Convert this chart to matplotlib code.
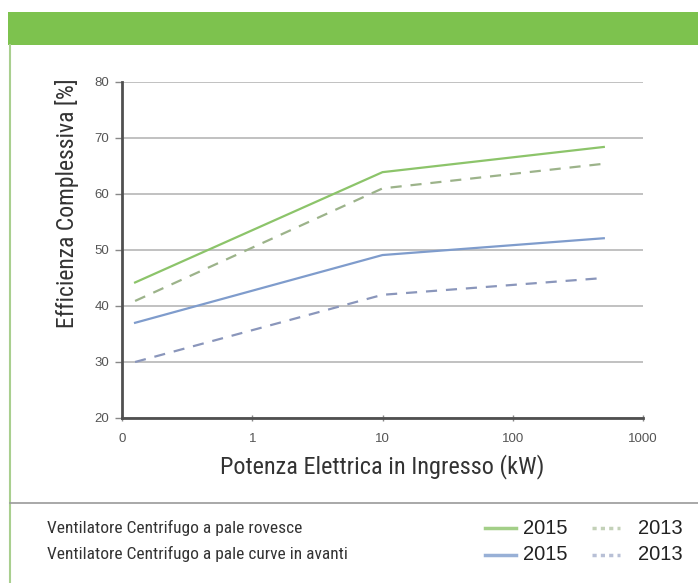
import numpy as np
import matplotlib.pyplot as plt
from matplotlib.lines import Line2D
from matplotlib.patches import Rectangle

# dati (potenza in kW, efficienza in %)
potenza = [0.126, 10, 500]
rov_2015 = [44.2, 63.9, 68.4]
rov_2013 = [40.9, 61.0, 65.4]
avanti_2015 = [37.0, 49.1, 52.1]
avanti_2013 = [30.0, 42.0, 45.0]

x_ticks = [0.1, 1, 10, 100, 1000]
x_tick_labels = ['0', '1', '10', '100', '1000']
y_ticks = [20, 30, 40, 50, 60, 70, 80]

verde = '#8cc46a'
verde_tratt = '#9cb38a'
blu = '#7f9ccc'
blu_tratt = '#8a96bb'

narrow = ['Roboto Condensed', 'Archivo Narrow', 'DejaVu Sans']
plt.rcParams['font.family'] = ['Liberation Sans', 'DejaVu Sans']

W, H = 698, 583
fig = plt.figure(figsize=(W / 100, H / 100), dpi=100)

# cornice: barra verde in alto, bordo sinistro, separatore legenda
fig.patches.append(Rectangle((8 / W, 1 - 45 / H), 1, 33 / H, transform=fig.transFigure,
                             facecolor='#7dc24e', edgecolor='none'))
fig.add_artist(Line2D([10 / W, 10 / W], [0, 1 - 45 / H], transform=fig.transFigure,
                      color='#a9cf8f', lw=1.5))
fig.add_artist(Line2D([10 / W, 1], [1 - 503 / H, 1 - 503 / H], transform=fig.transFigure,
                      color='#9a9a9a', lw=1.2))

ax = fig.add_axes([122 / W, 1 - 418 / H, (643 - 122) / W, (418 - 82) / H])
ax.set_xscale('log')
ax.set_xlim(0.1, 1000)
ax.set_ylim(20, 80)

ax.plot(potenza, rov_2015, color=verde, lw=1.6)
ax.plot(potenza, rov_2013, color=verde_tratt, lw=1.6, dashes=(5, 4))
ax.plot(potenza, avanti_2015, color=blu, lw=1.6)
ax.plot(potenza, avanti_2013, color=blu_tratt, lw=1.6, dashes=(5, 4))

ax.set_yticks(y_ticks)
ax.set_xticks(x_ticks)
ax.set_xticklabels(x_tick_labels)
ax.minorticks_off()
ax.grid(axis='y', color='#b0b0b0', lw=1.1)
ax.set_axisbelow(True)
for s in ['top', 'right']:
    ax.spines[s].set_visible(False)
for s in ['left', 'bottom']:
    ax.spines[s].set_color('#505050')
    ax.spines[s].set_linewidth(2)
ax.tick_params(axis='both', colors='#888888', labelcolor='#555555', labelsize=9.5,
               length=5, width=1)
ax.tick_params(axis='x', direction='inout', pad=8)
ax.tick_params(axis='y', pad=4)

ax.set_xlabel('Potenza Elettrica in Ingresso (kW)', family=narrow, fontsize=17.5,
              color='#333333')
ax.xaxis.set_label_coords(0.5, -0.108)
ax.set_ylabel('Efficienza Complessiva [%]', family=narrow, fontsize=17,
              color='#333333')
ax.yaxis.set_label_coords(-0.082, 0.64)

# legenda in basso
fig.text(47 / W, 1 - 528 / H, 'Ventilatore Centrifugo a pale rovesce', family=narrow,
         fontsize=12.5, color='#333333', va='center')
fig.text(47 / W, 1 - 554 / H, 'Ventilatore Centrifugo a pale curve in avanti', family=narrow,
         fontsize=12.5, color='#333333', va='center')

righe = [(528, verde, verde_tratt), (555, blu, blu_tratt)]
for y, c1, c2 in righe:
    yf = 1 - y / H
    fig.add_artist(Line2D([485 / W, 516 / W], [yf, yf], transform=fig.transFigure,
                          color=c1, lw=2.5, alpha=0.8))
    fig.text(523 / W, yf, '2015', fontsize=14.5, color='#222222', va='center')
    fig.add_artist(Line2D([592 / W, 620 / W], [yf, yf], transform=fig.transFigure,
                          color=c2, lw=2.5, alpha=0.6, dashes=(1.2, 1.2)))
    fig.text(638 / W, yf, '2013', fontsize=14.5, color='#222222', va='center')

fig.savefig('out.png', dpi=100)
